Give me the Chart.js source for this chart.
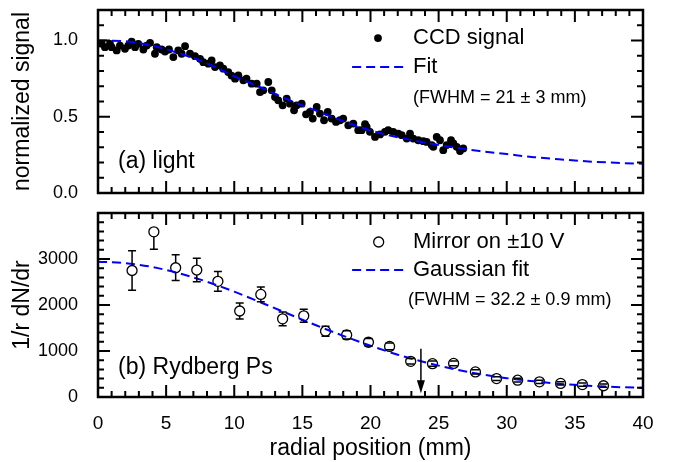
<!DOCTYPE html>
<html><head><meta charset="utf-8">
<script src="https://cdn.jsdelivr.net/npm/chart.js@4/dist/chart.umd.min.js"></script>
<style>
html,body{margin:0;padding:0;background:#fff;}
#wrap{position:relative;width:674px;height:462px;overflow:hidden;}
#c1{position:absolute;left:0;top:0;}
#c2{position:absolute;left:0;top:200px;}
</style></head><body>
<div id="wrap">
<canvas id="c1" width="674" height="200"></canvas>
<canvas id="c2" width="674" height="262"></canvas>
</div>
<script>
// ---------------- data ----------------
const xTicks = [0, 5, 10, 15, 20, 25, 30, 35, 40];
const yTicksA = [0.0, 0.5, 1.0];
const yTicksB = [0, 1000, 2000, 3000];

// (a) light: CCD signal
const ccdX = [0.27,0.51,0.88,1.0,1.37,1.61,1.98,2.22,2.47,2.72,2.96,3.33,3.57,3.82,4.18,4.31,4.67,4.92,5.21,5.53,
  5.89,6.14,6.39,6.75,7.12,7.49,7.73,8.1,8.34,8.59,8.95,9.2,9.56,9.8,10.06,10.3,10.67,10.9,11.28,11.65,
  11.89,12.13,12.5,12.75,12.99,13.23,13.55,13.85,14.09,14.39,14.58,14.95,15.27,15.56,15.76,16.05,16.29,16.59,16.86,17.15,
  17.47,17.76,18.0,18.37,18.74,19.1,19.35,19.6,19.72,19.96,20.33,20.7,21.06,21.3,21.67,22.04,22.29,22.66,22.9,23.14,
  23.51,23.88,24.12,24.49,24.61,24.86,25.1,25.34,25.59,25.91,26.08,26.33,26.57,26.81];
const ccdY = [0.978,0.956,0.978,0.956,0.935,0.967,0.946,0.967,0.993,0.956,0.978,0.941,0.967,0.985,0.913,0.956,0.941,0.928,0.941,0.891,
  0.935,0.913,0.963,0.913,0.897,0.880,0.858,0.848,0.869,0.826,0.837,0.815,0.793,0.770,0.750,0.771,0.739,0.750,0.717,0.717,
  0.662,0.673,0.728,0.673,0.629,0.608,0.575,0.619,0.586,0.542,0.575,0.586,0.516,0.531,0.488,0.564,0.521,0.477,0.531,0.488,
  0.466,0.477,0.488,0.444,0.455,0.412,0.412,0.451,0.433,0.401,0.368,0.384,0.401,0.412,0.401,0.390,0.379,0.357,0.390,0.357,
  0.346,0.340,0.335,0.314,0.303,0.368,0.346,0.281,0.314,0.346,0.325,0.303,0.275,0.292];
// (a) fit curve
const fitAX = [0,2,4,6,8,10,12,14,16,18,20,22,24,26,28,30,32,34,36,38,40];
const fitAY = [1.0,0.995,0.965,0.915,0.85,0.765,0.69,0.61,0.54,0.47,0.41,0.365,0.33,0.30,0.275,0.255,0.235,0.22,0.207,0.198,0.192];

// (b) Rydberg Ps: mirror on +-10 V
const psX = [2.5,4.1,5.7,7.25,8.8,10.4,11.95,13.55,15.1,16.7,18.25,19.85,21.4,22.95,24.55,26.1,27.7,29.25,30.8,32.4,33.95,35.55,37.1];
const psY = [2750,3590,2810,2760,2515,1870,2230,1700,1765,1430,1350,1190,1100,775,725,730,545,400,365,330,295,270,245];
const psErrUp = [430,0,280,255,215,175,160,150,140,110,90,80,75,60,55,50,45,40,40,35,35,35,35];
const psErrDown = [430,380,280,255,215,175,160,150,140,110,90,80,75,60,55,50,45,40,40,35,35,35,35];
// (b) Gaussian fit curve
const fitBX = [0,2,4,6,8,10,12,14,16,18,20,22,24,26,28,30,32,34,36,38,40];
const fitBY = [2940,2910,2825,2685,2505,2290,2050,1805,1560,1330,1115,920,755,615,500,410,340,285,245,218,198];

const arrowX = 23.7, arrowFrom = 1050, arrowTo = 80;

// ---------------- helpers ----------------
const FONT = "'Liberation Sans', Arial, Helvetica, sans-serif";
const BLUE = '#0000ff';
const pts = (xs, ys) => xs.map((x, i) => ({x, y: ys[i]}));

function drawFrame(chart, cfg) {
  const {ctx, chartArea: a, scales: {x, y}} = chart;
  ctx.save();
  ctx.strokeStyle = '#000';
  ctx.lineWidth = 2;
  ctx.beginPath();
  const nx = Math.round((x.max - x.min) / cfg.xMinor);
  for (let k = 0; k <= nx; k++) {
    const v = x.min + k * cfg.xMinor;
    const px = x.getPixelForValue(v);
    const L = (k % cfg.xEvery === 0) ? 12 : 6;
    ctx.moveTo(px, a.bottom); ctx.lineTo(px, a.bottom - L);
    ctx.moveTo(px, a.top); ctx.lineTo(px, a.top + L);
  }
  const ny = Math.round((y.max - y.min) / cfg.yMinor);
  for (let k = 0; k <= ny; k++) {
    const v = y.min + k * cfg.yMinor;
    const py = y.getPixelForValue(v);
    const L = (k % cfg.yEvery === 0) ? 12 : 6;
    ctx.moveTo(a.left, py); ctx.lineTo(a.left + L, py);
    ctx.moveTo(a.right, py); ctx.lineTo(a.right - L, py);
  }
  ctx.stroke();
  ctx.lineWidth = 2.5;
  ctx.strokeRect(a.left, a.top, a.right - a.left, a.bottom - a.top);
  ctx.restore();
}

function text(chart, str, xv, yv, size) {
  const {ctx, scales: {x, y}} = chart;
  ctx.save();
  ctx.fillStyle = '#000';
  ctx.font = size + 'px ' + FONT;
  ctx.textAlign = 'left';
  ctx.textBaseline = 'middle';
  ctx.fillText(str, x.getPixelForValue(xv), y.getPixelForValue(yv));
  ctx.restore();
}
function dashSample(chart, x0, x1, yv) {
  const {ctx, scales: {x, y}} = chart;
  ctx.save();
  ctx.strokeStyle = BLUE; ctx.lineWidth = 2; ctx.setLineDash([9, 5]);
  ctx.beginPath();
  const py = y.getPixelForValue(yv);
  ctx.moveTo(x.getPixelForValue(x0), py); ctx.lineTo(x.getPixelForValue(x1), py);
  ctx.stroke();
  ctx.restore();
}

const yTickCallbackA = v => Number(v).toFixed(1);

const commonX = (display) => ({
  type: 'linear', min: 0, max: 40, display: display,
  afterBuildTicks: s => { s.ticks = xTicks.map(v => ({value: v})); },
  grid: {display: false}, border: {display: false},
  ticks: {font: {family: FONT, size: 19}, color: '#000', padding: 7, maxRotation: 0, autoSkip: false},
});
const noPadY = s => { s.width = 98; s.paddingTop = 0; s.paddingBottom = 0; };

// ---------------- chart (a) ----------------
new Chart(document.getElementById('c1'), {
  type: 'scatter',
  data: {datasets: [
    {label: 'Fit', data: pts(fitAX, fitAY), showLine: true, borderColor: BLUE, borderWidth: 2,
     borderDash: [9, 5], pointRadius: 0, cubicInterpolationMode: 'monotone', fill: false},
    {label: 'CCD signal', data: pts(ccdX, ccdY), pointRadius: 3.9, pointBackgroundColor: '#000',
     pointBorderWidth: 0, borderColor: '#000', backgroundColor: '#000'}
  ]},
  options: {
    responsive: false, animation: false, devicePixelRatio: 1,
    layout: {padding: {left: 0, right: 31, top: 10, bottom: 7}},
    plugins: {legend: {display: false}, tooltip: {enabled: false}},
    scales: {
      x: commonX(false),
      y: {type: 'linear', min: 0, max: 1.2,
        afterBuildTicks: s => { s.ticks = yTicksA.map(v => ({value: v})); },
        afterFit: noPadY,
        grid: {display: false}, border: {display: false},
        ticks: {font: {family: FONT, size: 18}, color: '#000', padding: 12, callback: yTickCallbackA},
        title: {display: true, text: 'normalized signal', color: '#000',
          font: {family: FONT, size: 23}, padding: {top: 9, bottom: 0}}
      }
    }
  },
  plugins: [{
    id: 'decorA',
    afterDraw(chart) {
      drawFrame(chart, {xMinor: 1, xEvery: 5, yMinor: 0.1, yEvery: 5});
      const {ctx, scales: {x, y}} = chart;
      // legend
      ctx.save(); ctx.fillStyle = '#000'; ctx.beginPath();
      ctx.arc(x.getPixelForValue(20.55), y.getPixelForValue(1.016), 3.9, 0, Math.PI * 2); ctx.fill(); ctx.restore();
      text(chart, 'CCD signal', 23.12, 1.016, 22);
      dashSample(chart, 18.65, 22.55, 0.826);
      text(chart, 'Fit', 23.12, 0.826, 22);
      text(chart, '(FWHM = 21 \u00b1 3 mm)', 23.12, 0.623, 18);
      text(chart, '(a) light', 1.47, 0.203, 23);
    }
  }]
});

// ---------------- chart (b) ----------------
new Chart(document.getElementById('c2'), {
  type: 'scatter',
  data: {datasets: [
    {label: 'Gaussian fit', data: pts(fitBX, fitBY), showLine: true, borderColor: BLUE, borderWidth: 2,
     borderDash: [9, 5], pointRadius: 0, cubicInterpolationMode: 'monotone', fill: false},
    {label: 'Mirror on \u00b110 V', data: pts(psX, psY), pointRadius: 5, pointBackgroundColor: '#fff',
     pointBorderColor: '#000', pointBorderWidth: 1.3, borderColor: '#000', backgroundColor: '#fff'}
  ]},
  options: {
    responsive: false, animation: false, devicePixelRatio: 1,
    layout: {padding: {left: 0, right: 31, top: 13, bottom: 0}},
    plugins: {legend: {display: false}, tooltip: {enabled: false}},
    scales: {
      x: Object.assign(commonX(true), {
        afterFit: s => { s.height = 65; s.paddingLeft = 0; s.paddingRight = 0; },
        title: {display: true, text: 'radial position (mm)', color: '#000',
          font: {family: FONT, size: 23}, padding: {top: 0, bottom: 0}}
      }),
      y: {type: 'linear', min: 0, max: 4000,
        afterBuildTicks: s => { s.ticks = yTicksB.map(v => ({value: v})); },
        afterFit: noPadY,
        grid: {display: false}, border: {display: false},
        ticks: {font: {family: FONT, size: 18}, color: '#000', padding: 12, callback: v => String(v)},
        title: {display: true, text: '1/r dN/dr', color: '#000',
          font: {family: FONT, size: 23}, padding: {top: 9, bottom: 0}}
      }
    }
  },
  plugins: [{
    id: 'decorB',
    afterDatasetsDraw(chart) {
      const {ctx, scales: {x, y}} = chart;
      ctx.save();
      ctx.strokeStyle = '#000'; ctx.lineWidth = 1.5;
      ctx.beginPath();
      const r = 5, cap = 4;
      psX.forEach((xv, i) => {
        const px = x.getPixelForValue(xv), py = y.getPixelForValue(psY[i]);
        if (psErrUp[i] > 0) {
          const t = y.getPixelForValue(psY[i] + psErrUp[i]);
          if (t < py - r) { ctx.moveTo(px, py - r); ctx.lineTo(px, t); }
          ctx.moveTo(px - cap, t); ctx.lineTo(px + cap, t);
        }
        if (psErrDown[i] > 0) {
          const b = y.getPixelForValue(psY[i] - psErrDown[i]);
          if (b > py + r) { ctx.moveTo(px, py + r); ctx.lineTo(px, b); }
          ctx.moveTo(px - cap, b); ctx.lineTo(px + cap, b);
        }
      });
      ctx.stroke();
      // arrow
      const ax = x.getPixelForValue(arrowX);
      const a0 = y.getPixelForValue(arrowFrom), a1 = y.getPixelForValue(arrowTo);
      ctx.lineWidth = 1.5;
      ctx.beginPath(); ctx.moveTo(ax, a0); ctx.lineTo(ax, a1 - 10); ctx.stroke();
      ctx.fillStyle = '#000';
      ctx.beginPath(); ctx.moveTo(ax - 4, a1 - 13); ctx.lineTo(ax + 4, a1 - 13); ctx.lineTo(ax, a1); ctx.closePath(); ctx.fill();
      ctx.restore();
    },
    afterDraw(chart) {
      drawFrame(chart, {xMinor: 1, xEvery: 5, yMinor: 200, yEvery: 5});
      const {ctx, scales: {x, y}} = chart;
      ctx.save(); ctx.fillStyle = '#fff'; ctx.strokeStyle = '#000'; ctx.lineWidth = 1.3; ctx.beginPath();
      ctx.arc(x.getPixelForValue(20.6), y.getPixelForValue(3370), 5, 0, Math.PI * 2); ctx.fill(); ctx.stroke(); ctx.restore();
      text(chart, 'Mirror on \u00b110 V', 23.12, 3370, 22);
      dashSample(chart, 18.65, 22.55, 2761);
      text(chart, 'Gaussian fit', 23.12, 2761, 22);
      text(chart, '(FWHM = 32.2 \u00b1 0.9 mm)', 22.75, 2109, 18);
      text(chart, '(b) Rydberg Ps', 1.47, 630, 23);
    }
  }]
});
</script>
</body></html>
